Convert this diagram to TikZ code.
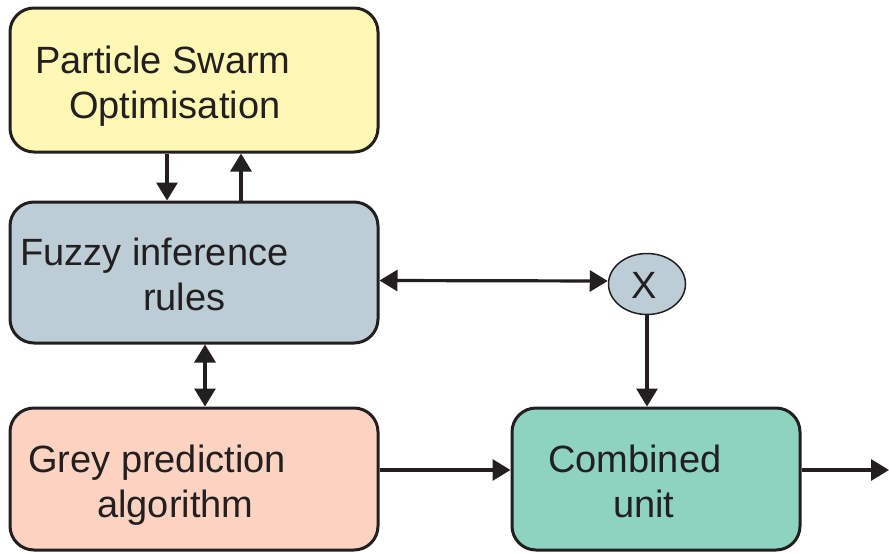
\documentclass[tikz,border=0pt]{standalone}
\usepackage{fontspec}
\setmainfont{Liberation Sans}
\usetikzlibrary{arrows.meta,shapes.geometric}
\definecolor{psoY}{HTML}{FFF8B4}
\definecolor{fuzB}{HTML}{BCCDD6}
\definecolor{greyS}{HTML}{FCD3C1}
\definecolor{combT}{HTML}{8DD3C0}
\definecolor{ink}{HTML}{231F20}
\tikzset{
  blk/.style={draw=ink, line width=3pt, rounded corners=24pt, inner sep=0pt},
  lbl/.style={anchor=base west, inner sep=0pt, text=ink, font=\fontsize{38}{45}\selectfont},
  arr/.style={draw=ink, line width=3.2pt, -{Triangle[length=18pt,width=21pt]}},
  darr/.style={draw=ink, line width=3.2pt, {Triangle[length=18pt,width=21pt]}-{Triangle[length=18pt,width=21pt]}}
}
\begin{document}
\begin{tikzpicture}[x=1pt,y=-1pt]
\useasboundingbox (0,0) rectangle (889,554);
\node[blk, fill=psoY, minimum width=368pt, minimum height=144pt] (pso) at (194,80) {};
\node[blk, fill=fuzB, minimum width=368pt, minimum height=141pt] (fuz) at (194,272.5) {};
\node[blk, fill=greyS, minimum width=368pt, minimum height=142pt] (grey) at (194,479) {};
\node[blk, fill=combT, minimum width=288pt, minimum height=142pt] (comb) at (656,479) {};
\node[ellipse, draw=ink, line width=1.5pt, fill=fuzB, minimum width=77pt, minimum height=61pt, inner sep=0pt] (mul) at (647,284) {};

\node[lbl] (t1) at (35,73) {Particle Swarm};
\node[lbl] (t2) at (69,118) {Optimisation};
\node[lbl] (t3) at (20,265) {Fuzzy inference};
\node[lbl] (t4) at (143,310) {rules};
\node[lbl] (t5) at (28,472) {Grey prediction};
\node[lbl] (t6) at (97,517) {algorithm};
\node[lbl] (t7) at (548,472) {Combined};
\node[lbl] (t8) at (613,517) {unit};
\node[inner sep=0pt, text=ink, font=\fontsize{38}{45}\selectfont] (tx) at (644,285) {X};

\coordinate (outp) at (889,470);

\draw[arr] ([xshift=-27pt]pso.south) -- ([xshift=-27pt]fuz.north);
\draw[arr] ([xshift=47pt]fuz.north) -- ([xshift=47pt]pso.south);
\draw[darr] ([yshift=-8pt]fuz.east) -- (mul.west |- 0,281);
\draw[arr] (mul.south) -- (mul.south |- comb.north);
\draw[darr] ([xshift=11pt]fuz.south) -- ([xshift=11pt]grey.north);
\draw[arr] ([yshift=9pt]grey.east) -- ([yshift=9pt]comb.west);
\draw[arr] ([yshift=9pt]comb.east) -- (outp);
\end{tikzpicture}
\end{document}
